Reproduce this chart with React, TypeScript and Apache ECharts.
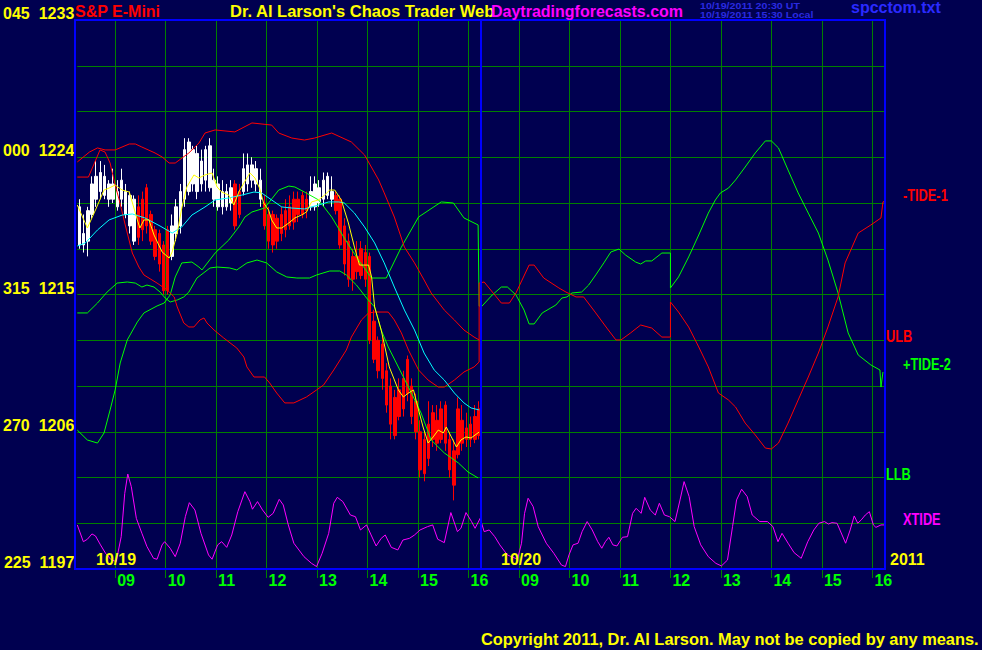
import React, { useEffect, useRef } from "react";
import * as echarts from "echarts";

const BG = "#000050";
const FONT = "'Liberation Sans', Arial, Helvetica, sans-serif";
const GRID_GREEN = "#008000";

// ---- axes ----
const yLabelValues = [1233, 1224, 1215, 1206, 1197];
const yLabelAngles = ["045", "000", "315", "270", "225"];
const hourLabels = ["09", "10", "11", "12", "13", "14", "15", "16"];
// hours counted from 08:15 on 10/19; day 2 starts at 8
const hourTicks = [0.75, 1.75, 2.75, 3.75, 4.75, 5.75, 6.75, 7.75, 8.75, 9.75, 10.75, 11.75, 12.75, 13.75, 14.75, 15.75];
const dayBreak = 8;

// ---- 5-minute bars on 10/19: [open, close, low, high] ----
const bars: number[][] = [
  [1218.25, 1220.75, 1218.0, 1221.25], [1218.25, 1219.0, 1217.75, 1220.25], [1218.5, 1220.5, 1217.5, 1220.75],
  [1220.25, 1222.25, 1220.0, 1222.75], [1221.25, 1222.75, 1220.75, 1223.75], [1221.75, 1223.0, 1221.25, 1223.75],
  [1221.5, 1222.75, 1221.25, 1223.5], [1221.25, 1222.25, 1220.75, 1222.5], [1221.25, 1222.25, 1221.0, 1223.25],
  [1220.75, 1221.75, 1220.5, 1222.5], [1221.25, 1222.5, 1220.75, 1223.25], [1220.25, 1221.75, 1220.0, 1222.25],
  [1219.5, 1221.5, 1219.0, 1221.75], [1218.5, 1221.25, 1218.25, 1221.5], [1220.75, 1218.75, 1218.25, 1221.5],
  [1221.25, 1219.25, 1218.5, 1221.75], [1222.0, 1219.5, 1219.0, 1222.25], [1220.25, 1218.5, 1218.25, 1220.5],
  [1219.25, 1217.5, 1217.25, 1219.5], [1219.0, 1217.0, 1216.5, 1219.25], [1218.25, 1215.25, 1215.0, 1218.5],
  [1219.25, 1215.25, 1215.0, 1219.5], [1217.5, 1219.5, 1217.25, 1220.25], [1219.0, 1220.75, 1218.5, 1221.25],
  [1219.5, 1221.75, 1219.0, 1222.25], [1221.25, 1224.5, 1220.75, 1225.25], [1221.75, 1225.0, 1221.5, 1225.25],
  [1222.25, 1224.5, 1221.75, 1224.75], [1221.75, 1224.25, 1221.25, 1224.75], [1222.25, 1223.75, 1221.75, 1224.5],
  [1222.5, 1224.5, 1221.75, 1224.75], [1222.0, 1224.75, 1221.75, 1225.25], [1221.25, 1222.5, 1220.75, 1223.25],
  [1220.75, 1222.25, 1220.5, 1222.75], [1220.75, 1221.75, 1220.25, 1222.5], [1220.75, 1221.75, 1220.5, 1222.25],
  [1221.0, 1222.0, 1220.5, 1222.5], [1222.25, 1219.5, 1219.25, 1222.5], [1221.75, 1220.25, 1220.0, 1222.25],
  [1221.75, 1223.25, 1221.5, 1224.25], [1222.25, 1223.5, 1221.75, 1224.25], [1222.5, 1223.5, 1222.0, 1224.0],
  [1222.25, 1223.25, 1221.75, 1223.75], [1221.25, 1222.5, 1220.75, 1223.25], [1221.0, 1219.5, 1219.25, 1221.5],
  [1220.25, 1218.5, 1218.0, 1220.75], [1220.25, 1218.25, 1217.75, 1220.5], [1220.0, 1218.5, 1218.0, 1220.25],
  [1220.25, 1219.0, 1218.5, 1220.75], [1220.5, 1219.25, 1218.75, 1221.25], [1220.75, 1219.5, 1219.25, 1221.5],
  [1221.25, 1219.75, 1219.25, 1221.75], [1221.25, 1220.25, 1219.75, 1221.75], [1221.5, 1220.25, 1220.0, 1221.75],
  [1221.25, 1220.5, 1220.0, 1221.75], [1220.75, 1221.75, 1220.5, 1222.75], [1220.75, 1222.25, 1220.5, 1222.75],
  [1221.0, 1222.0, 1220.75, 1222.5], [1221.25, 1222.5, 1220.75, 1223.0], [1221.5, 1222.75, 1221.25, 1223.0],
  [1221.25, 1221.75, 1220.75, 1222.75], [1221.5, 1220.5, 1220.25, 1221.75], [1221.25, 1218.25, 1218.0, 1221.5],
  [1219.5, 1217.0, 1216.25, 1220.0], [1218.5, 1216.0, 1215.5, 1219.0], [1217.5, 1216.0, 1215.25, 1218.0],
  [1217.5, 1216.5, 1216.0, 1218.5], [1218.0, 1216.25, 1216.0, 1218.5], [1217.75, 1216.0, 1215.5, 1218.25],
  [1217.5, 1212.0, 1211.75, 1217.75], [1213.25, 1210.75, 1210.5, 1214.0], [1212.0, 1210.0, 1209.5, 1212.25],
  [1211.75, 1209.5, 1208.75, 1212.25], [1210.0, 1207.75, 1207.25, 1210.5], [1209.0, 1206.5, 1205.5, 1209.5],
  [1208.25, 1205.75, 1205.5, 1208.75], [1208.75, 1207.0, 1206.75, 1209.5], [1209.5, 1207.5, 1207.0, 1210.0],
  [1210.75, 1208.5, 1208.0, 1211.0], [1209.0, 1207.0, 1206.5, 1209.5], [1208.0, 1206.0, 1205.5, 1208.5],
  [1206.0, 1203.5, 1203.0, 1206.75], [1205.5, 1203.25, 1202.75, 1206.0], [1206.5, 1204.25, 1203.75, 1208.0],
  [1207.25, 1205.5, 1205.0, 1207.75], [1206.75, 1205.25, 1204.75, 1207.75], [1207.5, 1205.5, 1205.25, 1208.0],
  [1207.75, 1205.25, 1204.75, 1208.0], [1205.5, 1203.5, 1203.0, 1206.0], [1204.75, 1202.5, 1201.5, 1205.5],
  [1207.5, 1204.5, 1204.25, 1208.25], [1206.75, 1205.25, 1204.75, 1207.75], [1206.25, 1205.5, 1205.0, 1207.25],
  [1206.5, 1205.5, 1205.0, 1207.0], [1207.0, 1205.5, 1205.25, 1207.75], [1207.5, 1205.75, 1205.5, 1208.0],
];
// trend colouring of the bars: runs of W (white) / R (red)
const trendRuns: [string, number][] = [["W", 14], ["R", 8], ["W", 15], ["R", 2], ["W", 5], ["R", 11], ["W", 6], ["R", 35]];

// ---- lines: [hour, value] ----
const fastAvg = [[0,1220.87],[0.20,1219.36],[0.36,1220.54],[0.53,1221.85],[0.63,1221.98],[0.75,1222.18],[0.89,1221.85],[1.03,1221.72],[1.19,1219.89],[1.24,1219.36],[1.32,1219.89],[1.42,1219.89],[1.52,1218.90],[1.68,1217.79],[1.82,1217.39],[1.88,1217.79],[1.98,1219.03],[2.07,1220.67],[2.17,1222.05],[2.31,1222.84],[2.41,1222.64],[2.53,1222.84],[2.67,1222.97],[2.77,1222.05],[2.86,1221.72],[3.00,1221.52],[3.10,1220.87],[3.20,1221.72],[3.30,1222.31],[3.42,1222.97],[3.52,1222.64],[3.61,1221.98],[3.69,1221.0],[3.79,1220.54],[3.85,1219.89],[3.95,1219.36],[4.05,1219.36],[4.19,1219.69],[4.31,1220.02],[4.44,1220.21],[4.54,1220.41],[4.64,1221.07],[4.78,1221.20],[4.90,1221.52],[5.00,1221.85],[5.10,1221.85],[5.23,1221.20],[5.37,1219.69],[5.49,1218.11],[5.59,1216.93],[5.77,1216.93],[5.83,1216.15],[5.89,1214.18],[6.02,1212.67],[6.18,1210.25],[6.36,1208.74],[6.46,1208.28],[6.56,1208.54],[6.66,1208.74],[6.76,1207.43],[6.85,1206.31],[6.95,1205.26],[7.05,1205.66],[7.15,1206.11],[7.25,1205.92],[7.31,1206.31],[7.41,1205.66],[7.51,1205.0],[7.60,1205.46],[7.70,1205.66],[7.80,1205.59],[7.96,1205.98]];

const slowAvg = [[0,1218.18],[0.16,1218.38],[0.40,1219.23],[0.63,1219.89],[0.89,1220.21],[1.09,1220.28],[1.34,1220.02],[1.64,1219.49],[1.88,1219.03],[2.07,1219.43],[2.27,1220.21],[2.53,1220.74],[2.73,1221.20],[3.00,1221.33],[3.26,1221.52],[3.50,1221.72],[3.65,1221.66],[3.85,1221.20],[4.05,1220.74],[4.25,1220.67],[4.50,1220.61],[4.64,1220.74],[4.78,1220.87],[4.98,1221.07],[5.18,1221.07],[5.29,1221.0],[5.49,1220.34],[5.69,1219.43],[5.89,1218.38],[6.08,1217.07],[6.28,1215.49],[6.48,1213.98],[6.68,1212.67],[6.87,1211.16],[7.07,1210.05],[7.27,1209.39],[7.47,1208.54],[7.66,1207.89],[7.80,1207.56],[7.96,1207.43]];

const ulb = [[0,1223.69],[0.24,1224.34],[0.40,1224.61],[0.55,1224.48],[0.75,1224.48],[1.03,1224.87],[1.15,1224.87],[1.28,1224.67],[1.54,1224.28],[1.68,1224.02],[1.82,1223.62],[1.94,1223.62],[2.21,1224.28],[2.41,1224.93],[2.53,1225.59],[2.73,1225.79],[3.12,1225.66],[3.46,1226.25],[3.85,1226.11],[3.99,1225.59],[4.25,1225.26],[4.50,1225.13],[4.70,1225.26],[5.04,1225.59],[5.43,1225.0],[5.69,1224.15],[5.97,1222.51],[6.08,1221.66],[6.28,1220.08],[6.48,1218.11],[6.68,1217.07],[6.87,1215.95],[7.01,1215.10],[7.27,1213.98],[7.47,1213.33],[7.66,1212.67],[7.86,1212.21],[7.96,1212.02]];

const llb = [[0,1213.79],[0.20,1213.79],[0.40,1214.44],[0.59,1215.16],[0.79,1215.75],[0.99,1215.82],[1.15,1215.75],[1.28,1215.49],[1.38,1215.62],[1.52,1215.49],[1.64,1215.16],[1.74,1214.77],[1.84,1214.51],[1.98,1214.64],[2.11,1214.84],[2.21,1215.16],[2.37,1216.08],[2.63,1216.74],[2.77,1216.80],[3.02,1216.74],[3.16,1216.61],[3.36,1217.07],[3.56,1217.26],[3.75,1217.07],[3.95,1216.48],[4.15,1216.15],[4.35,1216.08],[4.60,1216.08],[4.74,1216.28],[5.00,1216.54],[5.20,1216.54],[5.33,1216.28],[5.53,1215.62],[5.73,1214.77],[5.89,1214.18],[6.02,1212.67],[6.16,1211.56],[6.56,1208.93],[6.81,1207.23],[7.01,1205.46],[7.27,1204.61],[7.55,1203.95],[7.74,1203.36],[7.94,1202.97]];

const tide1 = [[0,1222.70],[0.22,1222.70],[0.34,1223.62],[0.45,1224.48],[0.55,1224.34],[0.65,1223.62],[0.75,1222.18],[0.83,1221.20],[0.95,1219.56],[1.09,1217.72],[1.22,1216.80],[1.32,1216.28],[1.58,1215.75],[1.78,1215.30],[1.92,1214.84],[1.98,1214.18],[2.11,1213.13],[2.21,1212.87],[2.31,1212.87],[2.43,1213.33],[2.51,1213.46],[2.57,1213.13],[2.71,1212.67],[2.90,1212.15],[3.16,1211.49],[3.30,1210.90],[3.36,1210.25],[3.50,1209.59],[3.71,1209.59],[3.81,1209.20],[3.95,1208.54],[4.11,1207.89],[4.29,1207.89],[4.54,1208.28],[4.74,1208.74],[4.88,1209.07],[5.08,1210.05],[5.33,1211.36],[5.43,1212.21],[5.63,1213.33],[5.77,1213.79],[5.89,1213.85],[6.16,1213.85],[6.28,1213.33],[6.42,1212.48],[6.56,1211.36],[6.76,1210.05],[6.95,1209.39],[7.15,1208.93],[7.27,1208.93],[7.47,1209.39],[7.66,1209.92],[7.86,1210.25],[7.96,1210.57],[7.96,1215.75],[8.06,1215.82],[8.40,1214.44],[8.56,1214.44],[8.69,1215.10],[8.95,1216.93],[9.05,1216.93],[9.24,1216.08],[9.54,1215.43],[9.68,1215.16],[9.88,1214.84],[10.03,1214.84],[10.27,1213.79],[10.49,1212.80],[10.67,1212.02],[10.77,1212.02],[10.96,1212.48],[11.16,1213.0],[11.38,1212.80],[11.58,1212.21],[11.75,1212.21],[11.75,1214.51],[11.91,1213.85],[12.11,1212.87],[12.31,1211.56],[12.50,1210.25],[12.70,1208.54],[12.90,1208.08],[13.04,1207.62],[13.23,1206.57],[13.43,1205.79],[13.63,1204.93],[13.75,1204.87],[13.89,1205.26],[14.08,1206.57],[14.28,1208.08],[14.48,1209.59],[14.68,1211.16],[14.87,1212.87],[15.07,1214.84],[15.21,1217.07],[15.47,1219.03],[15.72,1219.56],[15.92,1220.02],[15.96,1221.07],[16.0,1221.13]];

const tide2 = [[0,1206.11],[0.20,1205.46],[0.40,1205.26],[0.53,1205.92],[0.65,1207.43],[0.75,1208.74],[0.85,1210.51],[0.99,1212.02],[1.19,1213.20],[1.32,1213.79],[1.58,1214.25],[1.72,1214.44],[1.84,1214.97],[1.94,1216.15],[2.07,1217.07],[2.27,1217.13],[2.41,1216.80],[2.47,1216.61],[2.73,1217.72],[3.00,1218.57],[3.20,1219.43],[3.32,1220.08],[3.46,1220.41],[3.71,1220.67],[3.99,1221.85],[4.19,1222.11],[4.31,1222.05],[4.50,1221.72],[4.78,1221.20],[5.04,1220.08],[5.29,1218.70],[5.57,1217.26],[5.83,1216.08],[6.12,1216.08],[6.42,1218.11],[6.76,1220.08],[7.21,1221.07],[7.45,1221.0],[7.66,1220.02],[7.94,1219.56],[7.96,1214.25],[8.0,1214.18],[8.22,1214.97],[8.40,1215.49],[8.52,1215.49],[8.69,1214.97],[8.85,1213.98],[8.95,1213.07],[9.05,1213.07],[9.21,1213.79],[9.48,1214.31],[9.60,1214.77],[9.70,1214.84],[9.80,1215.10],[9.99,1215.16],[10.13,1215.62],[10.27,1216.28],[10.43,1217.07],[10.57,1217.79],[10.73,1217.98],[10.86,1217.59],[11.06,1217.13],[11.16,1217.0],[11.26,1217.20],[11.38,1217.20],[11.58,1217.72],[11.75,1217.72],[11.75,1215.43],[11.91,1216.15],[12.11,1217.46],[12.31,1218.90],[12.50,1220.34],[12.64,1221.20],[12.74,1221.66],[12.90,1221.98],[13.04,1222.51],[13.23,1223.36],[13.43,1224.28],[13.63,1225.07],[13.75,1225.07],[13.89,1224.61],[14.08,1223.16],[14.28,1221.66],[14.48,1220.34],[14.68,1219.03],[14.87,1217.26],[15.07,1215.10],[15.27,1212.48],[15.47,1211.03],[15.72,1210.38],[15.90,1210.05],[15.92,1208.93],[15.96,1209.92]];

const xtide = [[0,1199.89],[0.12,1198.79],[0.20,1198.95],[0.29,1199.30],[0.36,1199.17],[0.46,1198.58],[0.56,1198.03],[0.66,1197.64],[0.77,1197.48],[0.87,1199.12],[0.94,1201.96],[1.0,1203.23],[1.07,1202.40],[1.17,1200.32],[1.28,1199.34],[1.38,1198.47],[1.51,1197.70],[1.58,1197.64],[1.68,1198.58],[1.73,1198.79],[1.84,1198.36],[1.94,1197.81],[2.04,1198.69],[2.14,1200.43],[2.22,1201.35],[2.33,1200.87],[2.45,1199.34],[2.60,1197.92],[2.67,1197.64],[2.78,1198.58],[2.86,1198.79],[2.96,1198.42],[3.06,1199.23],[3.18,1200.76],[3.32,1202.07],[3.42,1201.42],[3.47,1200.92],[3.57,1201.42],[3.67,1200.87],[3.78,1200.39],[3.88,1200.65],[4.0,1201.57],[4.08,1201.20],[4.18,1199.89],[4.29,1198.69],[4.49,1197.81],[4.64,1197.37],[4.74,1197.16],[4.85,1198.03],[4.98,1199.34],[5.08,1201.31],[5.15,1201.70],[5.26,1201.42],[5.41,1200.54],[5.51,1200.43],[5.61,1199.56],[5.73,1199.89],[5.82,1199.23],[5.92,1198.51],[6.02,1199.01],[6.10,1199.23],[6.22,1198.42],[6.35,1198.25],[6.45,1198.90],[6.58,1199.01],[6.68,1199.23],[6.79,1199.56],[6.94,1199.78],[7.04,1199.89],[7.14,1198.95],[7.27,1198.73],[7.40,1200.70],[7.53,1199.45],[7.60,1199.67],[7.70,1200.70],[7.81,1200.11],[7.88,1199.67],[7.98,1200.32],[8.06,1199.45],[8.16,1199.56],[8.27,1199.12],[8.37,1198.58],[8.52,1197.92],[8.72,1197.64],[8.80,1198.69],[8.86,1200.65],[8.93,1201.64],[9.03,1201.09],[9.13,1199.78],[9.29,1198.69],[9.44,1198.03],[9.59,1197.26],[9.67,1197.16],[9.74,1197.92],[9.82,1198.58],[9.92,1198.69],[10.0,1199.45],[10.10,1200.11],[10.20,1199.56],[10.31,1198.79],[10.39,1198.36],[10.46,1198.79],[10.53,1199.08],[10.61,1198.58],[10.69,1198.51],[10.80,1199.08],[10.90,1199.12],[11.0,1200.65],[11.07,1200.98],[11.17,1200.65],[11.24,1201.70],[11.35,1200.87],[11.45,1200.54],[11.53,1201.31],[11.63,1200.54],[11.73,1200.43],[11.84,1200.11],[11.94,1201.53],[12.02,1202.73],[12.12,1201.75],[12.22,1199.78],[12.35,1198.58],[12.50,1197.81],[12.65,1197.37],[12.76,1197.20],[12.88,1197.59],[12.98,1199.78],[13.06,1201.53],[13.16,1202.23],[13.27,1201.75],[13.37,1200.54],[13.52,1200.11],[13.67,1200.11],[13.78,1199.78],[13.88,1198.79],[13.96,1199.34],[14.08,1198.69],[14.20,1198.07],[14.34,1197.70],[14.47,1198.79],[14.59,1199.56],[14.69,1200.0],[14.80,1200.11],[14.88,1199.95],[14.95,1200.04],[15.05,1200.0],[15.15,1199.23],[15.22,1198.69],[15.31,1199.56],[15.39,1200.48],[15.46,1200.0],[15.53,1200.22],[15.61,1200.54],[15.69,1200.76],[15.77,1199.89],[15.82,1199.73],[15.92,1199.89],[16.0,1199.89]];

function buildOption() {
  const trend: string[] = [];
  trendRuns.forEach(([c, n]) => { for (let k = 0; k < n; k++) trend.push(c); });
  const whiteBars: number[][] = [];
  const redBars: number[][] = [];
  bars.forEach((b, i) => {
    const t = (i + 0.5) / 12; // 5-minute bar centre, hours since 08:15
    (trend[i] === "W" ? whiteBars : redBars).push([t, b[0], b[1], b[2], b[3]]);
  });

  const candle = (data: number[][], color: string) => ({
    type: "candlestick",
    data,
    barWidth: 3,
    silent: true,
    z: 2,
    itemStyle: { color, color0: color, borderColor: color, borderColor0: color, borderWidth: 1 },
  });
  const line = (data: number[][], color: string, z = 3) => ({
    type: "line",
    data,
    showSymbol: false,
    symbol: "none",
    silent: true,
    z,
    lineStyle: { color, width: 1 },
    itemStyle: { color },
  });

  const txt = (text: string, x: number, y: number, fill: string, size: number, extra: any = {}) => ({
    type: "text",
    x,
    y,
    z: 50,
    silent: true,
    ...extra,
    style: { text, fill, font: `bold ${size}px ${FONT}`, align: "left", verticalAlign: "middle" },
  });

  return {
    animation: false,
    backgroundColor: BG,
    grid: { left: 75, top: 20, width: 810, height: 549, show: false },
    xAxis: {
      type: "value",
      min: 0,
      max: 16,
      axisLine: { show: false },
      axisTick: { show: true, customValues: hourTicks, length: 9, lineStyle: { color: GRID_GREEN, width: 1 } },
      axisLabel: {
        customValues: hourTicks,
        formatter: (v: number) => hourLabels[Math.round(v - 0.75) % 8],
        color: "#00ff00",
        fontFamily: FONT,
        fontWeight: "bold",
        fontSize: 16,
        lineHeight: 16,
        align: "left",
        padding: [0, 0, 0, 2],
        margin: 3,
      },
      splitLine: { show: true, lineStyle: { color: GRID_GREEN, width: 1 } },
    },
    yAxis: {
      type: "value",
      min: 1197,
      max: 1233,
      interval: 3,
      axisLine: { show: false },
      axisTick: { show: false },
      axisLabel: {
        margin: 3,
        verticalAlign: "bottom",
        lineHeight: 13,
        formatter: (v: number) => {
          const i = yLabelValues.indexOf(v);
          return i >= 0 ? `{a|${yLabelAngles[i]}}{b|${v}}` : "";
        },
        rich: {
          a: { color: "#ffff00", fontFamily: FONT, fontWeight: "bold", fontSize: 16, lineHeight: 13 },
          b: { color: "#ffff00", fontFamily: FONT, fontWeight: "bold", fontSize: 16, lineHeight: 13, padding: [0, 0, 0, 9] },
        },
      },
      splitLine: { show: true, lineStyle: { color: GRID_GREEN, width: 1 } },
    },
    series: [
      candle(whiteBars, "#ffffff"),
      candle(redBars, "#ff0000"),
      line(xtide, "#ff00ff"),
      line(tide2, "#00ff00"),
      line(llb, "#00ff00"),
      line(tide1, "#ff0000"),
      line(ulb, "#ff0000"),
      line(slowAvg, "#00ffff", 4),
      {
        ...line(fastAvg, "#ffff00", 5),
        markLine: {
          silent: true,
          symbol: "none",
          label: { show: false },
          lineStyle: { color: "#0000ff", width: 2, type: "solid" },
          data: [{ xAxis: dayBreak }],
        },
      },
    ],
    graphic: [
      {
        type: "rect",
        z: 40,
        silent: true,
        shape: { x: 75, y: 20, width: 810, height: 549 },
        style: { fill: "none", stroke: "#0000ff", lineWidth: 2 },
      },
      txt("S&P E-Mini", 75, 11, "#ff0000", 16),
      txt("Dr. Al Larson's Chaos Trader Web", 230, 11, "#ffff00", 16.5),
      txt("Daytradingforecasts.com", 491, 11, "#ff00ff", 16),
      txt("10/19/2011 20:30 UT", 700, 5.6, "#2a2ae0", 9.5, { scaleX: 1.12 }),
      txt("10/19/2011 15:30 Local", 700, 15.2, "#2a2ae0", 9.5, { scaleX: 1.12 }),
      txt("spcctom.txt", 851, 7.5, "#2a2aff", 16),
      txt("10/19", 96, 559.7, "#ffff00", 16),
      txt("10/20", 501, 559.7, "#ffff00", 16),
      txt("2011", 890, 559.7, "#ffff00", 16),
      txt("-TIDE-1", 903, 195, "#ff0000", 16, { scaleX: 0.8 }),
      txt("ULB", 886, 336, "#ff0000", 16, { scaleX: 0.8 }),
      txt("+TIDE-2", 903, 364.5, "#00ff00", 16, { scaleX: 0.8 }),
      txt("LLB", 886, 474, "#00ff00", 16, { scaleX: 0.8 }),
      txt("XTIDE", 903, 519, "#ff00ff", 16, { scaleX: 0.8 }),
      txt("Copyright 2011, Dr. Al Larson. May not be copied by any means.", 481, 639, "#ffff00", 16.4),
    ],
  };
}

export default function App() {
  const ref = useRef<HTMLDivElement>(null);
  useEffect(() => {
    if (!ref.current) return;
    const chart = echarts.init(ref.current, null, { renderer: "svg" });
    chart.setOption(buildOption() as any);
    return () => chart.dispose();
  }, []);
  return (
    <div
      ref={ref}
      style={{ position: "fixed", left: 0, top: 0, width: 982, height: 650, background: BG }}
    />
  );
}
